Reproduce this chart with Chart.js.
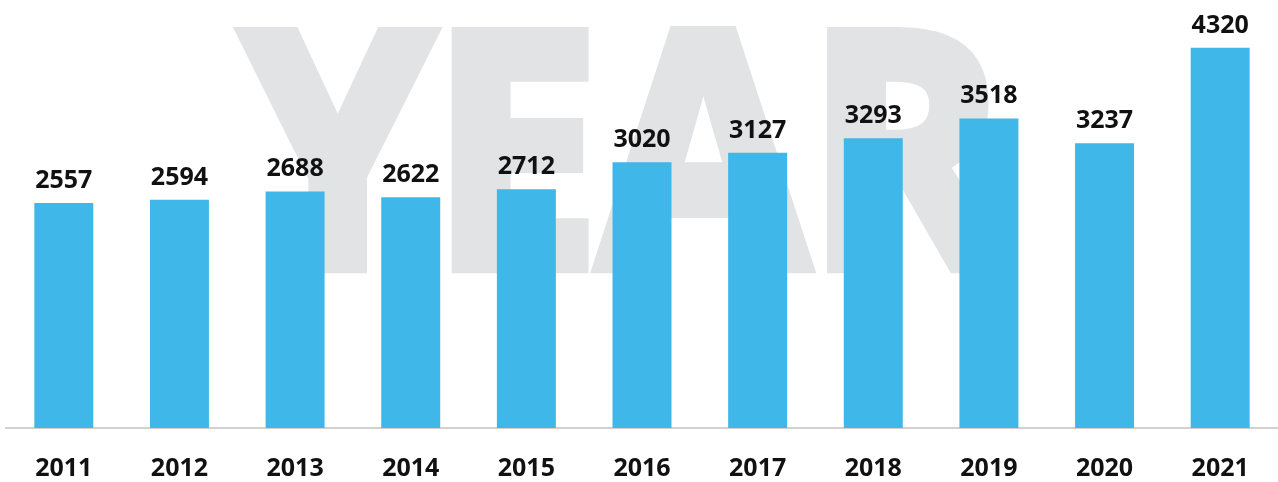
<!DOCTYPE html>
<html>
<head>
<meta charset="utf-8">
<script src="https://cdn.jsdelivr.net/npm/chart.js@4/dist/chart.umd.min.js"></script>
<style>
  body { margin: 0; background: #fff; }
  #wrap { width: 1278px; height: 482px; position: relative; }
</style>
</head>
<body>
<div id="wrap"><canvas id="yearChart"></canvas></div>
<script>
// Data
const years = ['2011', '2012', '2013', '2014', '2015', '2016', '2017', '2018', '2019', '2020', '2021'];
const counts = [2557, 2594, 2688, 2622, 2712, 3020, 3127, 3293, 3518, 3237, 4320];
const watermarkText = 'YEAR';

const barColor = '#3fb7e8';
const textColor = '#111111';
const labelFont = 'bold 25px "Open Sans", sans-serif';

// Big grey "YEAR" behind the bars
const watermark = {
  id: 'watermark',
  beforeDatasetsDraw(chart) {
    const c = chart.ctx;
    const grow = 7; // extra stroke to make the letters heavier
    c.save();
    c.font = 'bold 100px "Open Sans", sans-serif';
    const m = c.measureText(watermarkText);
    const w = m.actualBoundingBoxLeft + m.actualBoundingBoxRight;
    const h = m.actualBoundingBoxAscent;
    // target box: x 237..1015, cap top 22, baseline 273
    const sx = (778 - 2 * grow) / w, sy = (251 - 2 * grow) / h;
    c.translate(237 + grow, 273 - grow);
    c.scale(sx, sy);
    c.fillStyle = '#e2e3e5';
    c.strokeStyle = '#e2e3e5';
    c.lineWidth = 2 * grow / ((sx + sy) / 2);
    c.lineJoin = 'miter';
    c.textBaseline = 'alphabetic';
    c.fillText(watermarkText, m.actualBoundingBoxLeft, 0);
    c.strokeText(watermarkText, m.actualBoundingBoxLeft, 0);
    c.restore();
  }
};

// Value labels above each bar
const valueLabels = {
  id: 'valueLabels',
  afterDatasetsDraw(chart) {
    const c = chart.ctx;
    const meta = chart.getDatasetMeta(0);
    c.save();
    c.font = labelFont;
    c.fillStyle = textColor;
    c.textAlign = 'center';
    c.textBaseline = 'alphabetic';
    meta.data.forEach((bar, i) => {
      c.fillText(String(counts[i]), bar.x, bar.y - 15);
    });
    c.restore();
  }
};

new Chart(document.getElementById('yearChart'), {
  type: 'bar',
  data: {
    labels: years,
    datasets: [{
      data: counts,
      backgroundColor: barColor,
      borderWidth: 0,
      barPercentage: 0.51,
      categoryPercentage: 1
    }]
  },
  options: {
    responsive: true,
    maintainAspectRatio: false,
    animation: false,
    layout: { padding: { left: 6, right: 0, top: 0, bottom: 0 } },
    plugins: {
      legend: { display: false },
      tooltip: { enabled: false }
    },
    scales: {
      x: {
        grid: { display: false, drawTicks: false },
        border: { display: true, color: '#d6d0cc', width: 2 },
        ticks: {
          color: textColor,
          font: { family: '"Open Sans", sans-serif', size: 25, weight: 'bold' },
          padding: 26
        },
        afterFit(scale) { scale.height = 54; }
      },
      y: {
        display: false,
        min: 0,
        max: 4864
      }
    }
  },
  plugins: [watermark, valueLabels]
});
</script>
</body>
</html>
